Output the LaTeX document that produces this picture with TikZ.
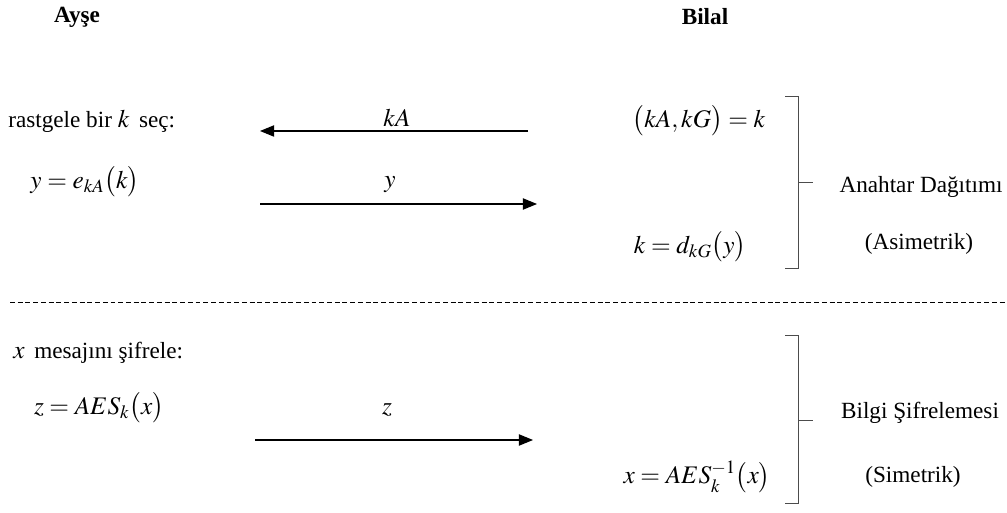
\documentclass[tikz,border=0pt]{standalone}
\usepackage{mathptmx}
\usepackage[no-math]{fontspec}
\setmainfont{Liberation Serif}
\usetikzlibrary{arrows.meta}

\tikzset{
  msg/.style={-{Triangle[length=10pt,width=8pt]}, thick},
  brk/.style={draw=black!70, semithick},
  txt/.style={inner sep=0pt, anchor=west},
  mth/.style={inner sep=0pt, font=\fontsize{18}{21}\selectfont}
}

\begin{document}
\fontsize{16.5}{19}\selectfont
\begin{tikzpicture}

  \useasboundingbox (0,0) rectangle (25.175,-12.825);

  % heads
  \node[font=\bfseries] (ayse)  at (1.925,-0.425)  {Ayşe};
  \node[font=\bfseries] (bilal) at (17.625,-0.425) {Bilal};

  % key distribution
  \node[txt] (sec)      at (0.2,-3.025)     {rastgele bir {\fontsize{18}{21}\selectfont$k$} \,seç:};
  \node[mth] (enc)      at (2.125,-4.55)    {$y=e_{kA}\bigl(k\bigr)$};
  \node[mth] (keys)     at (17.475,-3.025)  {$\bigl(kA,kG\bigr)=k$};
  \node[mth] (dec)      at (17.25,-6.175)   {$k=d_{kG}\bigl(y\bigr)$};
  \node[mth] (lbl-kA)   at (9.925,-2.95)    {$kA$};
  \node[mth] (lbl-y)    at (9.75,-4.625)    {$y$};

  \coordinate (kA1) at (13.2,-3.275);
  \coordinate (kA2) at (6.5,-3.275);
  \coordinate (y1)  at (6.5,-5.1);
  \coordinate (y2)  at (13.425,-5.1);

  \draw[msg] (kA1) -- (kA2);
  \draw[msg] (y1) -- (y2);

  \draw[brk] (19.625,-2.4) -- (19.95,-2.4) -- (19.95,-6.7) -- (19.625,-6.7);
  \draw[brk] (19.95,-4.55) -- (20.325,-4.55);
  \node (anahtar) at (23.025,-4.675) {Anahtar Dağıtımı};
  \node (asim)    at (22.975,-6.1)   {(Asimetrik)};

  \draw[dash pattern=on 3.5pt off 2pt, thin] (0.25,-7.55) -- (25.175,-7.55);

  % data encryption
  \node[txt] (sifre)  at (0.325,-8.825)   {{\fontsize{18}{21}\selectfont$x$} \,mesajını şifrele:};
  \node[mth] (aes)    at (2.475,-10.2)    {$z=AES_k\bigl(x\bigr)$};
  \node[mth] (inv)    at (17.425,-11.925) {$x=AES_k^{-1}\bigl(x\bigr)$};
  \node[mth] (lbl-z)  at (9.675,-10.25)   {$z$};

  \coordinate (z1) at (6.375,-11.0);
  \coordinate (z2) at (13.325,-11.0);
  \draw[msg] (z1) -- (z2);

  \draw[brk] (19.625,-8.375) -- (19.95,-8.375) -- (19.95,-12.575) -- (19.625,-12.575);
  \draw[brk] (19.95,-10.5) -- (20.325,-10.5);
  \node (bilgi) at (23.0,-10.325)   {Bilgi Şifrelemesi};
  \node (sim)   at (22.825,-11.925) {(Simetrik)};

\end{tikzpicture}
\end{document}
